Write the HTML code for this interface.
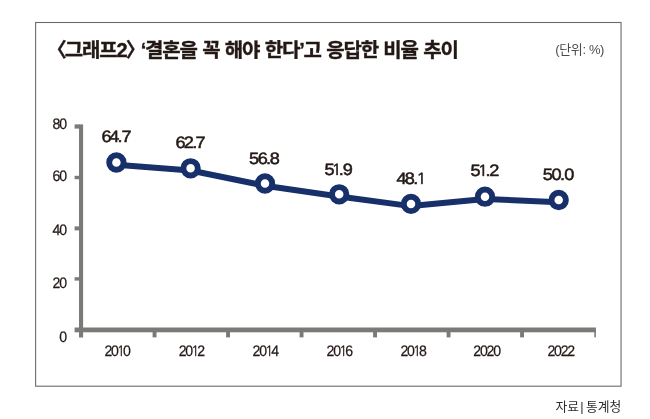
<!DOCTYPE html>
<html lang="ko">
<head>
<meta charset="utf-8">
<title>그래프2</title>
<style>
html,body{margin:0;padding:0;background:#fff;}
body{width:650px;height:419px;overflow:hidden;position:relative;}
svg{position:absolute;left:0;top:0;display:block;}
.ko{font-family:"Liberation Sans","Noto Sans CJK KR","NanumGothic",sans-serif;}
.mix{font-family:"Liberation Sans","Noto Sans CJK KR","NanumGothic",sans-serif;}
.one{font-family:"NanumGothic","Liberation Sans",sans-serif;}
.num{font-family:"Liberation Sans",sans-serif;fill:#231815;stroke:#231815;text-rendering:geometricPrecision;}
</style>
</head>
<body>
<svg width="650" height="419" viewBox="0 0 650 419">
  <rect x="0" y="0" width="650" height="419" fill="#ffffff"/>
  <rect x="35.6" y="22.5" width="585.45" height="363.7" fill="none" stroke="#6b6b6b" stroke-width="1.1"/>
  <text id="title" class="ko" transform="translate(56.0 57.3) scale(1.07 1.05)" font-size="18.7" font-weight="700" letter-spacing="-1.10" word-spacing="1.0" fill="#231815" stroke="#231815" stroke-width="0.35" style="font-feature-settings:'palt';">〈그래프2〉 ‘결혼을 꼭 해야 한다’고 응답한 비율 추이</text>
  <text id="unit" class="mix" x="555.2" y="54.4" font-size="13" letter-spacing="-0.35" fill="#4a4a4a">(단위: %)</text>
  <g fill="#7a7a77">
    <rect x="79" y="124.4" width="4.1" height="213.1"/>
    <rect x="74.6" y="327.5" width="521.3" height="4.8"/>
    <rect x="74.6" y="124.4" width="5" height="4.2"/>
    <rect x="74.6" y="175.8" width="5" height="3.4"/>
    <rect x="74.6" y="226.4" width="5" height="4.0"/>
    <rect x="74.6" y="277.2" width="5" height="3.4"/>
    <rect x="152.6" y="330" width="3.9" height="7.4"/>
    <rect x="226.1" y="330" width="3.9" height="7.4"/>
    <rect x="299.6" y="330" width="3.9" height="7.4"/>
    <rect x="373.1" y="330" width="3.9" height="7.4"/>
    <rect x="446.6" y="330" width="3.9" height="7.4"/>
    <rect x="520.1" y="330" width="3.9" height="7.4"/>
    <rect x="594.3" y="330" width="1.6" height="7.3"/>
  </g>
  <g class="num" font-size="15.2" text-anchor="end" letter-spacing="-1.3" stroke-width="0.25">
    <text transform="translate(65.9 128.5) scale(0.93 1)">80</text>
    <text transform="translate(65.9 181.4) scale(0.93 1)">60</text>
    <text transform="translate(65.9 234.7) scale(0.93 1)">40</text>
    <text transform="translate(65.9 288.1) scale(0.93 1)">20</text>
    <text transform="translate(65.9 341.6) scale(0.93 1)">0</text>
  </g>
  <g class="num" font-size="15.2" stroke-width="0.25">
    <text transform="scale(0.93 1)" x="112.25 119.40 125.75 132.20" y="356.2">20<tspan class="one" font-size="14.08">1</tspan>0</text>
    <text transform="scale(0.93 1)" x="192.14 199.29 205.64 212.09" y="356.2">20<tspan class="one" font-size="14.08">1</tspan>2</text>
    <text transform="scale(0.93 1)" x="271.61 278.76 285.10 291.55" y="356.2">20<tspan class="one" font-size="14.08">1</tspan>4</text>
    <text transform="scale(0.93 1)" x="351.18 358.33 364.67 371.12" y="356.2">20<tspan class="one" font-size="14.08">1</tspan>6</text>
    <text transform="scale(0.93 1)" x="430.53 437.68 444.02 450.48" y="356.2">20<tspan class="one" font-size="14.08">1</tspan>8</text>
    <text transform="scale(0.93 1)" x="508.92 516.07 523.22 530.37" y="356.2">2020</text>
    <text transform="scale(0.93 1)" x="588.59 595.75 602.90 610.05" y="356.2">2022</text>
  </g>
  <polyline fill="none" stroke="#17306a" stroke-width="6" stroke-linejoin="round" stroke-linecap="round" points="116.4,164.7 190.6,170.5 265.0,185.7 339.2,196.5 411.0,206.1 485.0,198.9 558.7,202.2"/>
  <g fill="#fff" stroke="#17306a" stroke-width="5.9">
    <circle cx="116.4" cy="162.5" r="7.2"/>
    <circle cx="190.6" cy="168.3" r="7.2"/>
    <circle cx="265.0" cy="183.5" r="7.2"/>
    <circle cx="339.2" cy="194.3" r="7.2"/>
    <circle cx="411.0" cy="203.9" r="7.2"/>
    <circle cx="485.0" cy="196.7" r="7.2"/>
    <circle cx="558.7" cy="200.0" r="7.2"/>
  </g>
  <g class="num" font-size="16.5" stroke-width="0.5">
    <text transform="scale(1.1 1)" x="92.25 99.26 106.91 110.39" y="142.4">64.7</text>
    <text transform="scale(1.1 1)" x="159.52 167.09 174.73 177.66" y="148.4">62.7</text>
    <text transform="scale(1.1 1)" x="226.48 234.35 241.73 245.30" y="164.2">56.8</text>
    <text transform="scale(1.1 1)" x="294.90 301.30 308.00 311.51" y="174.9">5<tspan class="one" font-size="15.28">1</tspan>.9</text>
    <text transform="scale(1.1 1)" x="360.48 367.97 375.73 378.33" y="184.4">48.<tspan class="one" font-size="15.28">1</tspan></text>
    <text transform="scale(1.1 1)" x="427.75 434.24 441.27 444.68" y="176.4">5<tspan class="one" font-size="15.28">1</tspan>.2</text>
    <text transform="scale(1.1 1)" x="493.48 501.31 509.00 512.86" y="179.5">50.0</text>
  </g>
  <text id="src" class="ko" x="621.3" y="411.3" font-size="12.8" text-anchor="end" word-spacing="-2.4" fill="#2e2e2e">자료 | <tspan dx="1.2">통계청</tspan></text>
</svg>
</body>
</html>
